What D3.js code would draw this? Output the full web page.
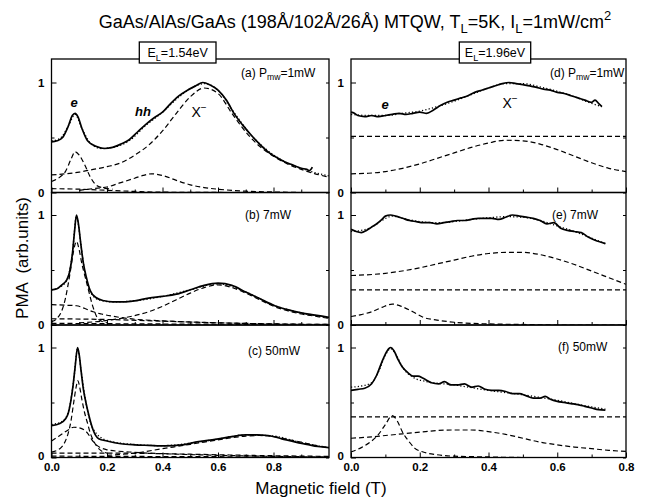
<!DOCTYPE html>
<html><head><meta charset="utf-8">
<script src="https://cdn.jsdelivr.net/npm/d3@7"></script>
<style>
body{margin:0;background:#fff}
svg{display:block}
text{font-family:"Liberation Sans",Arial,Helvetica,sans-serif;fill:#000}
</style>
</head><body><svg id="chart" width="647" height="500"></svg>
<script>
// ---------- tick labels ----------
const xTicksLeft = [0, 0.2, 0.4, 0.6, 0.8];
const xMinorLeft = [0.1, 0.3, 0.5, 0.7, 0.9];
const xTicksRight = [0, 0.2, 0.4, 0.6, 0.8];
const xMinorRight = [0.1, 0.3, 0.5, 0.7];
const yTicks = [0, 1];
const yMinor = [0.5];

// ---------- panel (a) E_L=1.54eV, 1mW ----------
const aExpB = [0,0.02,0.04,0.06,0.075,0.085,0.095,0.11,0.13,0.16,0.19,0.22,0.25,0.28,0.31,0.34,0.37,0.40,0.43,0.46,0.49,0.52,0.545,0.57,0.60,0.63,0.66,0.69,0.72,0.75,0.78,0.81,0.84,0.87,0.90,0.92,0.93,0.94];
const aExpY = [0.46,0.47,0.50,0.60,0.70,0.72,0.69,0.58,0.47,0.42,0.40,0.41,0.44,0.48,0.55,0.62,0.68,0.73,0.81,0.88,0.93,0.97,1.00,0.98,0.93,0.84,0.71,0.61,0.52,0.44,0.37,0.32,0.28,0.25,0.22,0.21,0.20,0.23];
const aFitB = [0,0.03,0.06,0.085,0.11,0.14,0.18,0.22,0.28,0.34,0.40,0.46,0.52,0.55,0.60,0.66,0.72,0.78,0.84,0.90,0.95,1.0];
const aFitY = [0.47,0.49,0.60,0.71,0.58,0.45,0.40,0.41,0.47,0.61,0.73,0.87,0.97,0.99,0.93,0.72,0.52,0.38,0.28,0.22,0.18,0.15];
const aXmB = [0,0.05,0.10,0.15,0.20,0.25,0.30,0.35,0.40,0.45,0.50,0.55,0.60,0.65,0.70,0.75,0.80,0.85,0.90,0.95,1.0];
const aXmY = [0.16,0.17,0.185,0.21,0.235,0.27,0.34,0.43,0.56,0.72,0.87,0.95,0.90,0.72,0.55,0.42,0.33,0.26,0.21,0.17,0.14];
const aElB = [0,0.03,0.05,0.07,0.085,0.10,0.12,0.14,0.16,0.19,0.22];
const aElY = [0.10,0.14,0.19,0.30,0.37,0.34,0.25,0.14,0.07,0.04,0.03];
const aHhB = [0.10,0.15,0.20,0.25,0.30,0.33,0.36,0.40,0.45,0.50,0.55,0.60,0.70,0.80,0.90,1.0];
const aHhY = [0.02,0.035,0.05,0.09,0.13,0.155,0.17,0.155,0.11,0.07,0.045,0.03,0.012,0.005,0,0];
const aBgB = [0,0.1,0.2,0.3,0.4,0.7,1.0];
const aBgY = [0.035,0.03,0.02,0.01,0.003,0,0];

// ---------- panel (b) 7mW ----------
const bExpB = [0,0.02,0.04,0.055,0.065,0.075,0.083,0.09,0.097,0.105,0.115,0.125,0.14,0.16,0.19,0.22,0.26,0.30,0.35,0.40,0.45,0.50,0.55,0.60,0.65,0.70,0.75,0.80,0.85,0.90,0.95,1.0];
const bExpY = [0.32,0.33,0.37,0.41,0.48,0.64,0.85,1.00,0.92,0.75,0.56,0.44,0.31,0.25,0.22,0.21,0.21,0.22,0.245,0.26,0.28,0.32,0.36,0.38,0.36,0.30,0.24,0.18,0.14,0.11,0.09,0.07];
const bFitB = [0,0.04,0.06,0.075,0.09,0.105,0.12,0.14,0.17,0.22,0.30,0.40,0.50,0.60,0.70,0.80,0.90,1.0];
const bFitY = [0.32,0.36,0.44,0.64,0.99,0.75,0.48,0.30,0.23,0.21,0.22,0.26,0.32,0.375,0.30,0.18,0.11,0.065];
const bElB = [0,0.02,0.04,0.05,0.06,0.07,0.08,0.09,0.10,0.11,0.12,0.13,0.15,0.17,0.20];
const bElY = [0.03,0.06,0.15,0.24,0.37,0.52,0.68,0.76,0.68,0.55,0.45,0.35,0.16,0.05,0.02];
const bLoB = [0,0.05,0.09,0.12,0.15,0.18,0.22,0.29,0.38,0.47,0.60,0.80,1.0];
const bLoY = [0.185,0.18,0.175,0.15,0.12,0.10,0.08,0.055,0.04,0.03,0.02,0.01,0.005];
const bXmB = [0.10,0.18,0.25,0.29,0.35,0.40,0.45,0.50,0.55,0.60,0.65,0.70,0.75,0.80,0.85,0.90,0.95,1.0];
const bXmY = [0.02,0.035,0.06,0.08,0.12,0.17,0.23,0.29,0.34,0.365,0.34,0.29,0.23,0.17,0.13,0.10,0.08,0.06];
const bBgB = [0,0.2,0.4,0.6,0.8,1.0];
const bBgY = [0.057,0.05,0.035,0.02,0.01,0.005];
const bZeB = [0,0.5,1.0];
const bZeY = [0.015,0.008,0.003];

// ---------- panel (c) 50mW ----------
const cExpB = [0,0.03,0.05,0.06,0.07,0.078,0.085,0.094,0.10,0.107,0.115,0.124,0.135,0.15,0.17,0.20,0.25,0.30,0.35,0.41,0.47,0.53,0.59,0.65,0.70,0.74,0.78,0.83,0.88,0.92,0.96,1.0];
const cExpY = [0.29,0.31,0.35,0.40,0.52,0.66,0.82,1.00,0.93,0.78,0.62,0.50,0.38,0.25,0.17,0.15,0.125,0.115,0.11,0.105,0.115,0.145,0.165,0.19,0.205,0.205,0.20,0.17,0.14,0.12,0.10,0.09];
const cFitB = [0,0.04,0.06,0.08,0.094,0.107,0.124,0.15,0.20,0.30,0.40,0.50,0.60,0.70,0.80,0.90,1.0];
const cFitY = [0.30,0.33,0.41,0.70,0.99,0.78,0.50,0.26,0.155,0.118,0.108,0.13,0.168,0.205,0.195,0.135,0.09];
const cElB = [0,0.03,0.05,0.06,0.07,0.08,0.088,0.095,0.10,0.11,0.12,0.13,0.14,0.15,0.17,0.20];
const cElY = [0.05,0.08,0.15,0.22,0.33,0.50,0.63,0.70,0.66,0.52,0.40,0.31,0.22,0.16,0.08,0.04];
const cLoB = [0,0.03,0.06,0.08,0.10,0.125,0.155,0.20,0.28,0.40,0.60,0.80,1.0];
const cLoY = [0.15,0.20,0.25,0.275,0.27,0.235,0.13,0.07,0.05,0.035,0.02,0.01,0.005];
const cXmB = [0.20,0.30,0.40,0.45,0.50,0.55,0.60,0.65,0.70,0.75,0.80,0.85,0.90,0.95,1.0];
const cXmY = [0.02,0.04,0.08,0.10,0.12,0.14,0.16,0.18,0.195,0.20,0.19,0.165,0.14,0.11,0.09];
const cBgB = [0,0.2,0.4,0.5,0.7,1.0];
const cBgY = [0.04,0.04,0.035,0.03,0.02,0.01];
const cZeB = [0,0.5,1.0];
const cZeY = [0.012,0.008,0.004];

// ---------- panel (d) E_L=1.96eV, 1mW ----------
const dExpB = [0,0.01,0.02,0.04,0.06,0.08,0.10,0.12,0.14,0.16,0.18,0.20,0.22,0.24,0.26,0.28,0.30,0.32,0.34,0.36,0.38,0.40,0.42,0.44,0.46,0.48,0.50,0.52,0.54,0.56,0.58,0.60,0.62,0.64,0.66,0.68,0.70,0.71,0.72,0.73];
const dExpY = [0.73,0.72,0.70,0.69,0.70,0.69,0.70,0.71,0.72,0.71,0.72,0.73,0.72,0.75,0.79,0.82,0.84,0.86,0.88,0.91,0.93,0.95,0.97,0.99,1.00,0.99,0.98,0.97,0.955,0.94,0.93,0.91,0.90,0.88,0.86,0.84,0.82,0.84,0.81,0.78];
const dFitB = [0,0.05,0.10,0.15,0.20,0.25,0.30,0.35,0.40,0.45,0.50,0.55,0.60,0.65,0.70,0.73];
const dFitY = [0.71,0.70,0.70,0.72,0.74,0.78,0.83,0.89,0.95,0.99,0.99,0.96,0.92,0.87,0.81,0.78];
const dFlatB = [0,0.8];
const dFlatY = [0.51,0.51];
const dXmB = [0,0.05,0.10,0.15,0.20,0.25,0.30,0.35,0.40,0.45,0.50,0.55,0.60,0.65,0.70,0.75,0.80];
const dXmY = [0.17,0.175,0.19,0.22,0.26,0.31,0.36,0.41,0.45,0.475,0.47,0.44,0.39,0.33,0.27,0.22,0.19];

// ---------- panel (e) 7mW ----------
const eExpB = [0,0.015,0.03,0.045,0.06,0.075,0.09,0.10,0.115,0.13,0.15,0.17,0.19,0.21,0.23,0.25,0.27,0.29,0.31,0.33,0.35,0.37,0.39,0.41,0.43,0.45,0.47,0.49,0.51,0.53,0.55,0.57,0.59,0.61,0.63,0.65,0.67,0.69,0.71,0.73,0.74];
const eExpY = [0.87,0.85,0.84,0.86,0.89,0.92,0.96,0.99,1.00,0.99,0.97,0.95,0.94,0.93,0.93,0.92,0.93,0.94,0.95,0.95,0.96,0.97,0.97,0.97,0.96,0.98,1.00,0.99,0.98,0.97,0.95,0.92,0.93,0.88,0.86,0.85,0.84,0.80,0.77,0.75,0.74];
const eFitB = [0,0.03,0.06,0.09,0.12,0.15,0.20,0.25,0.30,0.35,0.40,0.45,0.50,0.55,0.60,0.65,0.70,0.74];
const eFitY = [0.85,0.86,0.89,0.95,0.99,0.97,0.94,0.93,0.94,0.96,0.975,0.985,0.98,0.95,0.90,0.85,0.79,0.74];
const eFlatB = [0,0.8];
const eFlatY = [0.32,0.32];
const eXmB = [0,0.10,0.20,0.25,0.30,0.35,0.40,0.45,0.50,0.55,0.60,0.65,0.70,0.75,0.80];
const eXmY = [0.45,0.47,0.52,0.555,0.59,0.625,0.65,0.66,0.66,0.64,0.60,0.55,0.49,0.43,0.37];
const eElB = [0,0.03,0.06,0.09,0.12,0.15,0.18,0.21,0.25,0.30,0.40,0.50,0.60,0.70,0.80];
const eElY = [0.077,0.095,0.12,0.16,0.19,0.165,0.12,0.07,0.045,0.025,0.01,0.005,0,0,0];

// ---------- panel (f) 50mW ----------
const fExpB = [0,0.02,0.04,0.06,0.075,0.09,0.10,0.11,0.116,0.125,0.137,0.15,0.166,0.18,0.195,0.21,0.234,0.255,0.272,0.29,0.31,0.33,0.35,0.37,0.39,0.41,0.43,0.45,0.47,0.49,0.51,0.53,0.55,0.565,0.58,0.60,0.62,0.64,0.66,0.68,0.70,0.72,0.74];
const fExpY = [0.61,0.62,0.63,0.67,0.75,0.87,0.94,0.99,1.00,0.97,0.89,0.82,0.77,0.74,0.74,0.72,0.68,0.67,0.69,0.66,0.66,0.67,0.64,0.65,0.62,0.61,0.61,0.60,0.58,0.58,0.56,0.54,0.54,0.555,0.53,0.51,0.50,0.49,0.48,0.465,0.45,0.435,0.43];
const fFitB = [0,0.03,0.06,0.08,0.10,0.115,0.13,0.15,0.18,0.22,0.30,0.40,0.50,0.60,0.70,0.74];
const fFitY = [0.64,0.65,0.68,0.78,0.93,0.99,0.94,0.82,0.73,0.69,0.66,0.61,0.57,0.52,0.46,0.44];
const fFlatB = [0,0.8];
const fFlatY = [0.37,0.37];
const fElB = [0,0.03,0.06,0.08,0.10,0.12,0.135,0.15,0.17,0.185,0.21,0.25,0.30,0.40,0.50,0.60,0.70,0.80];
const fElY = [0.05,0.09,0.15,0.21,0.30,0.38,0.33,0.23,0.14,0.085,0.05,0.025,0.012,0.005,0,0,0,0];
const fXmB = [0,0.05,0.10,0.15,0.20,0.25,0.30,0.35,0.40,0.45,0.50,0.55,0.60,0.65,0.70,0.75,0.80];
const fXmY = [0.175,0.185,0.20,0.215,0.23,0.245,0.25,0.25,0.235,0.21,0.175,0.14,0.115,0.095,0.08,0.065,0.055];

// ---------- layout ----------
const svg = d3.select('#chart');
const cols = [
  {range:[51.5, 329], domain:[0, 1], major:xTicksLeft, minor:xMinorLeft},
  {range:[351, 626], domain:[0, 0.8], major:xTicksRight, minor:xMinorRight}
];
const rowsTB = [[59, 192.5], [192.5, 325], [325, 457.5]];
const pxPerUnit = 110;
const zip = (a, b) => a.map((v, i) => [v, b[i]]);

const panels = [
  {col:0, row:0, exp:zip(aExpB,aExpY), fit:zip(aFitB,aFitY),
   comps:[zip(aXmB,aXmY), zip(aElB,aElY), zip(aHhB,aHhY), zip(aBgB,aBgY)],
   label:[['(a) P'],['mw','sub'],['=1mW']], lx:241, ly:77},
  {col:0, row:1, exp:zip(bExpB,bExpY), fit:zip(bFitB,bFitY),
   comps:[zip(bElB,bElY), zip(bLoB,bLoY), zip(bXmB,bXmY), zip(bBgB,bBgY), zip(bZeB,bZeY)],
   label:[['(b) 7mW']], lx:245, ly:219},
  {col:0, row:2, exp:zip(cExpB,cExpY), fit:zip(cFitB,cFitY),
   comps:[zip(cElB,cElY), zip(cLoB,cLoY), zip(cXmB,cXmY), zip(cBgB,cBgY), zip(cZeB,cZeY)],
   label:[['(c) 50mW']], lx:248, ly:355},
  {col:1, row:0, exp:zip(dExpB,dExpY), fit:zip(dFitB,dFitY),
   comps:[zip(dFlatB,dFlatY), zip(dXmB,dXmY)],
   label:[['(d) P'],['mw','sub'],['=1mW']], lx:550, ly:77},
  {col:1, row:1, exp:zip(eExpB,eExpY), fit:zip(eFitB,eFitY),
   comps:[zip(eFlatB,eFlatY), zip(eXmB,eXmY), zip(eElB,eElY)],
   label:[['(e) 7mW']], lx:552, ly:219},
  {col:1, row:2, exp:zip(fExpB,fExpY), fit:zip(fFitB,fFitY),
   comps:[zip(fFlatB,fFlatY), zip(fElB,fElY), zip(fXmB,fXmY)],
   label:[['(f) 50mW']], lx:558, ly:351}
];

function rich(g, x, y, parts, size, anchor, extra) {
  const t = g.append('text').attr('x', x).attr('y', y)
    .attr('font-size', size).attr('text-anchor', anchor || 'start');
  if (extra) extra(t);
  let shift = 0;
  parts.forEach(p => {
    const s = t.append('tspan').text(p[0]);
    let target = 0;
    if (p[1] === 'sub') { s.attr('font-size', size * 0.72); target = size * 0.28; }
    if (p[1] === 'sup') { s.attr('font-size', size * 0.72); target = -size * 0.42; }
    s.attr('dy', target - shift);
    shift = target;
  });
  return t;
}

panels.forEach(p => {
  const c = cols[p.col];
  const [top, bot] = rowsTB[p.row];
  const x = d3.scaleLinear().domain(c.domain).range(c.range);
  const y = d3.scaleLinear().domain([0, (bot - top) / pxPerUnit]).range([bot, top]);
  const g = svg.append('g');
  const clipId = 'clip' + p.col + p.row;
  svg.append('clipPath').attr('id', clipId).append('rect')
    .attr('x', c.range[0]).attr('y', top).attr('width', c.range[1] - c.range[0]).attr('height', bot - top);

  const line = d3.line().x(d => x(d[0])).y(d => y(d[1])).curve(d3.curveMonotoneX);
  const lines = g.append('g').attr('clip-path', `url(#${clipId})`);
  p.comps.forEach(cd => {
    lines.append('path').attr('d', line(cd)).attr('fill', 'none')
      .attr('stroke', '#000').attr('stroke-width', 1.2).attr('stroke-dasharray', '5,3');
  });
  lines.append('path').attr('d', line(p.fit)).attr('fill', 'none')
    .attr('stroke', '#000').attr('stroke-width', 1.3).attr('stroke-dasharray', '1.2,2.2');
  lines.append('path').attr('d', line(p.exp)).attr('fill', 'none')
    .attr('stroke', '#000').attr('stroke-width', 1.7).attr('stroke-linejoin', 'round');

  // bottom ticks (inward)
  const isBottom = p.row === 2;
  const xa = d3.axisBottom(x).tickValues(c.major).tickSize(-5).tickPadding(5)
    .tickFormat(isBottom ? d3.format('.1f') : () => '');
  const xg = g.append('g').attr('transform', `translate(0,${bot})`).call(xa);
  xg.select('.domain').remove();
  xg.selectAll('text').attr('font-size', 11.5).attr('font-weight', 'bold')
    .attr('font-family', '"Liberation Sans",Arial,sans-serif');
  const xm = d3.axisBottom(x).tickValues(c.minor).tickSize(-3).tickFormat(() => '');
  const xmg = g.append('g').attr('transform', `translate(0,${bot})`).call(xm);
  xmg.select('.domain').remove();

  // left ticks
  const ya = d3.axisLeft(y).tickValues(yTicks).tickSize(-5).tickPadding(7).tickFormat(d3.format('d'));
  const yg = g.append('g').attr('transform', `translate(${c.range[0]},0)`).call(ya);
  yg.select('.domain').remove();
  yg.selectAll('text').attr('font-size', 11.5).attr('font-weight', 'bold')
    .attr('font-family', '"Liberation Sans",Arial,sans-serif');
  if (isBottom) yg.selectAll('text').filter(d => d === 0).attr('dy', '0.15em');
  const ym = d3.axisLeft(y).tickValues(yMinor).tickSize(-3).tickFormat(() => '');
  const ymg = g.append('g').attr('transform', `translate(${c.range[0]},0)`).call(ym);
  ymg.select('.domain').remove();
  const yr = d3.axisRight(y).tickValues(yTicks.concat(yMinor)).tickSize(-3).tickFormat(() => '');
  const yrg = g.append('g').attr('transform', `translate(${c.range[1]},0)`).call(yr);
  yrg.select('.domain').remove();

  // frame
  g.append('rect').attr('x', c.range[0]).attr('y', top)
    .attr('width', c.range[1] - c.range[0]).attr('height', bot - top)
    .attr('fill', 'none').attr('stroke', '#000').attr('stroke-width', 1.3);

  rich(g, p.lx, p.ly, p.label, 12);
});

// ---------- annotations ----------
const ann = svg.append('g');
ann.append('text').attr('x', 74).attr('y', 107).attr('font-size', 13).attr('font-style', 'italic').attr('font-weight', 'bold').attr('text-anchor', 'middle').text('e');
ann.append('text').attr('x', 143).attr('y', 116).attr('font-size', 13).attr('font-style', 'italic').attr('font-weight', 'bold').attr('text-anchor', 'middle').text('hh');
rich(ann, 199, 117, [['X'], ['−', 'sup']], 14, 'middle');
ann.append('text').attr('x', 385).attr('y', 109).attr('font-size', 13).attr('font-style', 'italic').attr('font-weight', 'bold').attr('text-anchor', 'middle').text('e');
rich(ann, 510, 108, [['X'], ['−', 'sup']], 14, 'middle');

// ---------- boxes ----------
const boxes = [
  {x:139.3, w:76.7, parts:[['E'], ['L', 'sub'], ['=1.54eV']]},
  {x:459.3, w:71.4, parts:[['E'], ['L', 'sub'], ['=1.96eV']]}
];
boxes.forEach(b => {
  svg.append('rect').attr('x', b.x).attr('y', 42).attr('width', b.w).attr('height', 21)
    .attr('fill', '#fff').attr('stroke', '#000').attr('stroke-width', 1.3);
  rich(svg, b.x + b.w / 2, 57, b.parts, 12.5, 'middle');
});

// ---------- titles ----------
rich(svg, 355, 28, [['GaAs/AlAs/GaAs (198Å/102Å/26Å) MTQW, T'], ['L', 'sub'], ['=5K, I'], ['L', 'sub'], ['=1mW/cm'], ['2', 'sup']], 18, 'middle');
svg.append('text').attr('x', 321).attr('y', 494).attr('font-size', 17).attr('text-anchor', 'middle').text('Magnetic field (T)');
svg.append('text').attr('transform', 'translate(28,258) rotate(-90)').attr('font-size', 17)
  .attr('text-anchor', 'middle').attr('xml:space', 'preserve').style('white-space', 'pre').text('PMA  (arb.units)');
</script></body></html>
